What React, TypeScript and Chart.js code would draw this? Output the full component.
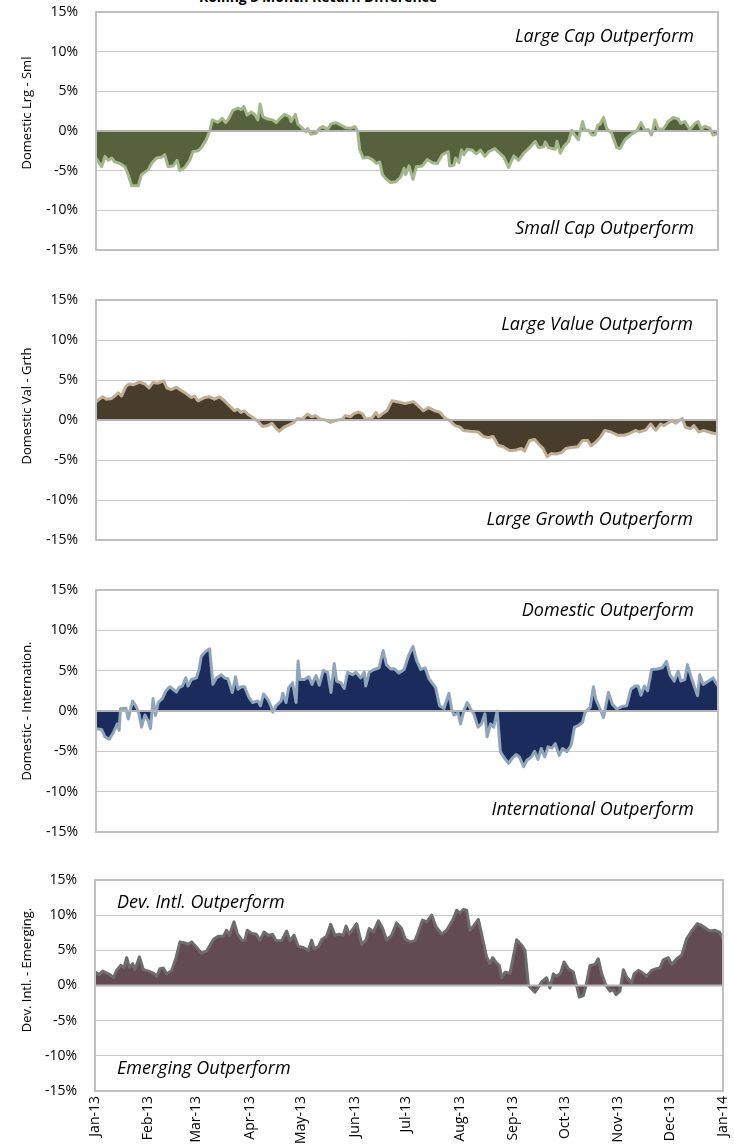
import React, { useEffect, useRef } from 'react';
import { Chart, registerables } from 'chart.js';

Chart.register(...registerables);

// ---------- axis data ----------
const monthDays = [0, 31, 59, 90, 120, 151, 181, 212, 243, 273, 304, 334, 365];
const monthLabels = ['Jan-13', 'Feb-13', 'Mar-13', 'Apr-13', 'May-13', 'Jun-13', 'Jul-13', 'Aug-13', 'Sep-13', 'Oct-13', 'Nov-13', 'Dec-13', 'Jan-14'];
const yTicks = [-15, -10, -5, 0, 5, 10, 15];

// ---------- series: Domestic Large - Small ----------
const lrgSmlDays = [0, 3.3, 5.3, 7.2, 9.2, 11.1, 14.0, 17.0, 18.9, 20.9, 24.8, 26.7, 30.6, 32.6, 35.5, 38.4, 40.4, 42.3, 45.2, 47.6, 49.1, 52.1, 55.0, 56.9, 59.9, 61.8, 64.7, 66.7, 68.3, 71.6, 74.1, 76.1, 78.0, 80.3, 83.3, 85.2, 86.8, 88.7, 91.1, 93.0, 95.0, 96.3, 97.9, 100.8, 103.7, 105.7, 107.6, 110.6, 113.5, 114.5, 117.0, 118.4, 121.3, 123.2, 124.2, 126.2, 129.1, 131.0, 133.0, 135.9, 137.9, 140.8, 143.7, 146.6, 149.6, 151.9, 153.5, 154.8, 156.8, 159.3, 162.2, 164.6, 166.5, 168.1, 170.0, 173.0, 175.9, 178.8, 180.8, 181.7, 183.7,
  186.0, 188.0, 191.5, 194.4, 197.3, 200.3, 203.2, 206.7, 207.5, 210.0, 211.0, 212.9, 214.5, 215.9, 217.8, 220.7, 223.1, 225.6, 228.2, 230.5, 234.0, 236.3, 239.3, 242.2, 245.1, 248.0, 251.0, 254.9, 257.8, 259.7, 262.7, 263.6, 265.6, 269.5, 270.5, 272.4, 274.4, 277.3, 279.2, 281.2, 283.1, 285.5, 287.0, 289.0, 290.9, 292.9, 294.4, 295.8, 297.8, 299.7, 302.6, 305.6, 307.5, 310.4, 314.3, 317.3, 319.8, 322.1, 324.1, 326.0, 328.0, 329.9, 332.9, 335.8, 338.7, 341.6, 343.2, 345.5, 348.5, 351.4, 353.3, 355.3, 357.2, 360.2, 362.1, 365];
const lrgSmlValues = [-3.4, -4.5, -3.2, -3.7, -3.4, -3.9, -4.1, -4.5, -5.5, -6.9, -6.9, -5.5, -4.9, -4.1, -3.4, -3.3, -3.0, -4.5, -4.4, -3.7, -5.0, -4.6, -3.7, -2.6, -2.5, -2.1, -1.1, 0, 1.4, 1.1, 1.6, 1.05, 1.6, 2.6, 2.9, 2.7, 3.1, 2.0, 2.4, 2.1, 1.4, 3.4, 1.8, 1.5, 1.4, 1.05, 1.5, 2.1, 1.8, 1.2, 2.1, 0.9, 0.3, -0.1, 0.3, -0.4, -0.3, 0.3, 0.55, 0.2, 0.9, 1.05, 0.75, 0.4, 0.35, 0.55, 0, -2.4, -3.4, -3.3, -3.6, -4.1, -3.9, -5.5, -6.0, -6.5, -6.4, -5.8, -4.7, -5.5, -4.4,
  -6.1, -4.5, -4.4, -3.6, -4.0, -4.1, -3.0, -2.6, -4.4, -4.3, -3.4, -4.0, -2.4, -3.0, -2.3, -2.4, -2.9, -2.4, -3.2, -2.6, -2.2, -2.7, -3.3, -4.6, -3.15, -3.7, -2.8, -2.0, -1.3, -2.1, -2.0, -1.4, -2.1, -2.3, -1.3, -2.8, -2.0, -1.3, 0.1, -0.6, -1.1, 1.2, 0.1, 0.1, -0.5, -0.5, 0.75, 0.85, 1.7, 0.3, -0.3, -2.1, -2.2, -1.1, -0.4, 0, 1.05, 0.1, 0.2, -0.5, 1.4, 0.25, 0.25, 1.2, 1.7, 1.5, 0.95, 1.2, 0.2, 0.95, 1.2, 0.2, 0.6, 0.35, -0.5, -0.3];

// ---------- series: Domestic Value - Growth ----------
const valGrthDays = [0, 1.9, 3.9, 6.2, 9.2, 11.1, 13.1, 15.0, 17.6, 19.5, 21.8, 25.7, 28.7, 31.2, 33.5, 36.5, 39.8, 41.7, 44.3, 47.2, 50.1, 53.0, 56.0, 57.9, 59.9, 63.8, 66.7, 69.6, 72.5, 75.5, 78.4, 81.3, 83.3, 85.2, 87.2, 89.1, 92.0, 95.0, 97.9, 100.8, 103.4, 105.3, 107.6, 110.6, 113.5, 116.4, 118.4, 121.3, 124.2, 126.8, 129.1, 132.0, 134.9, 137.9, 141.8, 144.7, 146.6, 149.6, 151.5, 154.4, 156.8, 158.3, 162.2, 164.6, 166.1, 168.1, 171.0, 173.9,
  177.8, 181.7, 186.6, 189.5, 192.5, 195.4, 199.3, 202.2, 205.1, 208.1, 211.0, 213.9, 215.9, 219.8, 224.6, 227.6, 230.5, 233.4, 236.3, 239.3, 243.2, 247.1, 250.0, 251.9, 254.9, 257.8, 260.7, 262.7, 265.2, 267.5, 270.5, 273.4, 276.3, 279.2, 283.1, 286.1, 289.0, 290.9, 293.9, 296.8, 299.1, 302.6, 306.5, 310.4, 313.4, 317.3, 319.2, 323.1, 326.0, 329.0, 331.9, 333.8, 336.8, 338.7, 340.7, 344.6, 346.5, 349.4, 351.4, 354.3, 357.2, 360.2, 362.7, 365];
const valGrthValues = [2.25, 2.6, 2.9, 2.6, 2.7, 3.0, 3.4, 3.0, 4.2, 4.5, 4.4, 4.75, 4.5, 4.0, 4.7, 4.6, 4.9, 4.0, 3.8, 4.1, 3.7, 3.3, 2.8, 3.0, 2.4, 2.8, 2.9, 2.6, 2.9, 2.4, 1.8, 1.15, 1.35, 0.95, 1.15, 0.75, 0.35, -0.15, -0.8, -0.7, -0.4, -0.9, -1.4, -0.9, -0.6, -0.3, 0.2, 0.1, 0.75, 0.4, 0.55, 0.1, 0, -0.3, 0, 0.1, 0.55, 0.4, 0.8, 1.0, 0.75, 0.1, 0.25, 0.95, 0.4, 0.75, 1.15, 2.4,
  2.25, 2.05, 2.3, 1.75, 1.15, 1.55, 1.15, 0.95, 0.25, -0.1, -0.7, -0.9, -1.3, -1.4, -1.5, -2.05, -2.2, -2.05, -3.15, -3.35, -3.85, -3.75, -3.55, -3.9, -2.55, -2.45, -3.15, -3.55, -4.6, -4.2, -4.25, -4.1, -3.55, -3.45, -3.35, -2.55, -2.55, -3.25, -2.75, -2.05, -1.3, -1.5, -1.9, -1.9, -1.7, -1.3, -1.5, -1.25, -0.5, -1.3, -0.5, -0.7, -0.3, -0.1, -0.4, 0.2, -0.9, -1.1, -0.7, -1.5, -1.3, -1.5, -1.65, -1.7];

// ---------- series: Domestic - International ----------
const domIntlDays = [0, 3.3, 5.3, 7.8, 10.1, 12.5, 13.6, 14.4, 17.6, 18.9, 19.9, 21.5, 23.8, 25.4, 26.7, 28.7, 30.6, 32.0, 33.5, 34.9, 36.5, 39.0, 41.0, 43.3, 45.2, 47.2, 48.7, 50.7, 52.7, 54.0, 56.0, 58.9, 60.4, 61.8, 64.4, 66.7, 68.6, 70.6, 73.5, 75.5, 77.4, 80.0, 81.9, 83.3, 85.2, 87.2, 89.7, 92.0, 95.0, 96.5, 98.3, 100.8, 102.8, 103.7, 105.7, 108.6, 109.6, 111.5, 113.1, 115.4, 117.4, 118.6, 119.7, 122.3, 124.8, 126.8, 129.1, 131.0, 133.4, 135.9, 137.9, 139.8, 141.2, 143.7, 145.7, 147.6, 150.5, 152.5, 155.4, 157.4, 158.3, 160.3, 163.2, 166.1, 168.5, 170.4, 173.0, 174.9, 177.8, 180.8,
  183.7, 186.0, 188.0, 190.5, 193.1, 195.4, 199.3, 201.6, 204.2, 207.1, 208.7, 210.0, 212.5, 213.9, 215.9, 217.8, 219.8, 221.7, 224.2, 226.2, 228.2, 229.5, 231.5, 233.4, 235.4, 237.3, 239.9, 242.2, 244.1, 246.5, 248.4, 251.0, 252.9, 255.5, 257.4, 259.4, 261.3, 263.3, 265.2, 267.5, 269.5, 271.8, 273.8, 276.3, 278.8, 280.8, 283.1, 285.5, 287.0, 290.0, 291.9, 293.3, 295.8, 297.8, 300.7, 303.0, 305.6, 308.5, 311.4, 313.9, 316.3, 318.2, 319.8, 321.8, 323.7, 326.0, 329.0, 332.3, 334.8, 336.8, 339.3, 341.6, 343.2, 345.5, 347.1, 349.4, 353.0, 354.3, 356.3, 359.2, 362.1, 365];
const domIntlValues = [-2.2, -2.3, -3.2, -3.5, -2.7, -1.6, -2.4, 0.3, 0.35, -1.0, -0.15, 1.25, 0.45, -0.5, -2.0, -0.5, -1.2, -2.2, 1.55, -0.55, 1.05, 1.55, 2.5, 3.0, 2.7, 2.35, 2.9, 3.1, 4.1, 3.1, 3.9, 4.1, 5.1, 6.8, 7.4, 7.7, 3.3, 4.1, 4.5, 4.1, 4.0, 2.3, 4.25, 2.7, 3.0, 3.0, 1.7, 1.05, 1.25, 0.65, 2.1, 1.45, 0.55, -0.15, 0.65, 1.25, 2.2, 1.05, 2.9, 3.5, 1.05, 6.2, 3.9, 3.9, 4.25, 3.3, 4.4, 3.2, 5.05, 4.8, 2.3, 5.9, 3.7, 3.5, 2.8, 4.8, 4.5, 4.8, 4.1, 4.8, 3.1, 4.8, 5.15, 5.35, 7.5, 5.75, 5.2, 5.25, 4.7, 5.15,
  7.0, 8.0, 6.35, 5.15, 5.35, 4.0, 2.9, 0.65, 0.3, 2.2, 0.25, -0.5, -0.25, -1.6, 0.05, 1.05, 0.25, -0.35, -2.0, -1.6, -0.35, -3.2, -1.6, -2.0, 0, -5.05, -5.9, -6.5, -5.9, -5.4, -5.7, -6.9, -6.1, -5.7, -5.0, -6.0, -4.65, -5.7, -4.45, -4.6, -4.05, -5.5, -4.65, -5.05, -4.25, -2.0, -1.8, -1.4, -0.15, 0.45, 3.0, 1.45, 0.25, -0.8, 2.3, 0.85, 0.25, 0.55, 0.65, 2.7, 3.1, 3.1, 1.95, 3.1, 2.5, 5.15, 5.2, 5.35, 6.15, 4.5, 3.7, 4.95, 3.7, 3.9, 5.75, 4.1, 1.9, 4.5, 3.3, 3.7, 4.1, 3.1];

// ---------- series: Developed Intl - Emerging ----------
const devEmDays = [0, 2.5, 4.5, 6.8, 8.7, 10.7, 12.6, 14.9, 16.9, 18.4, 20.0, 21.9, 23.2, 25.8, 28.1, 31.0, 33.9, 35.8, 37.8, 39.7, 41.7, 44.6, 47.1, 49.4, 52.3, 54.2, 56.2, 59.1, 62.0, 64.9, 66.8, 69.2, 71.7, 74.6, 76.5, 78.1, 80.8, 82.7, 85.2, 87.2, 88.5, 91.1, 93.6, 95.9, 98.2, 100.7, 103.3, 105.2, 108.5, 111.4, 113.3, 115.7, 118.2, 121.1, 124.0, 125.9, 127.3, 129.8, 131.7, 134.6, 137.0, 139.5, 142.0, 144.3, 145.9, 147.8, 150.1, 152.1, 155.0, 157.5, 159.4, 161.8, 164.7, 167.2, 169.5, 172.4, 175.3, 178.2,
  180.2, 183.1, 186.0, 187.9, 190.4, 192.8, 195.7, 198.2, 201.5, 204.4, 207.9, 210.2, 212.1, 214.1, 216.0, 217.9, 220.3, 222.8, 225.3, 227.6, 229.6, 231.1, 233.4, 235.0, 236.4, 238.3, 241.2, 243.1, 245.1, 248.0, 249.9, 251.9, 253.8, 255.7, 257.7, 259.6, 262.5, 264.4, 266.4, 268.3, 270.6, 272.6, 275.1, 278.0, 279.9, 281.5, 283.8, 285.4, 287.7, 290.6, 292.5, 294.5, 297.0, 299.3, 301.3, 302.8, 305.1, 307.1, 309.0, 311.9, 313.3, 315.8, 317.7, 320.6, 323.5, 326.4, 328.4, 330.3, 333.2, 335.2, 338.1, 341.0, 343.9, 346.8, 350.1, 352.6, 355.1, 357.4, 360.3, 362.9, 365];
const devEmValues = [1.9, 1.55, 2.05, 1.75, 1.55, 1.1, 2.15, 2.85, 2.6, 3.95, 2.6, 3.1, 2.25, 4.05, 2.25, 2.05, 1.75, 1.3, 2.4, 2.5, 1.65, 2.15, 3.95, 6.2, 6.05, 5.85, 6.2, 5.4, 4.6, 4.9, 5.7, 6.65, 7.0, 7.0, 7.85, 7.15, 9.05, 7.4, 6.45, 6.45, 7.85, 7.4, 7.3, 6.45, 7.6, 7.15, 7.25, 6.35, 6.35, 7.75, 6.35, 7.15, 5.55, 5.4, 5.0, 6.45, 5.25, 5.5, 6.5, 7.0, 8.7, 7.15, 7.3, 7.15, 8.45, 7.3, 8.1, 8.8, 5.85, 6.45, 8.1, 7.6, 9.2, 8.1, 6.45, 7.15, 8.9, 8.1,
  6.65, 6.2, 6.35, 7.6, 9.3, 9.05, 10.0, 8.35, 7.3, 7.85, 9.3, 10.7, 10.3, 10.8, 10.7, 7.85, 8.55, 9.4, 6.65, 4.05, 3.1, 3.95, 3.2, 2.85, 1.1, 1.9, 1.75, 4.05, 6.5, 5.7, 5.0, 0, -0.5, -0.95, -0.25, 0.5, 1.1, -0.35, 1.65, 1.3, 1.75, 3.35, 2.4, 1.9, 0, -1.65, -1.45, 0, 2.85, 3.0, 3.8, 1.65, 0, -0.8, -0.6, -1.3, -0.8, 2.25, 1.2, 0.35, 1.65, 2.15, 1.9, 1.3, 2.15, 2.4, 2.5, 3.65, 3.95, 3.0, 3.8, 4.3, 6.65, 7.75, 8.8, 8.55, 8.1, 7.75, 7.85, 7.6, 6.65];

// ---------- layout / style ----------
const FONT = '"Open Sans", "DejaVu Sans", sans-serif';

type Note = { text: string; value: number; align: 'left' | 'right' };
type Panel = {
  axisTitle: string;
  days: number[];
  values: number[];
  fill: string;
  line: string;
  top: number;
  height: number;
  padTop: number;
  padBottom: number;
  padRight: number;
  axisWidth: number;
  titleY: number;
  showX: boolean;
  notes: Note[];
};

const panels: Panel[] = [
  {
    axisTitle: 'Domestic Lrg - Sml', days: lrgSmlDays, values: lrgSmlValues,
    fill: '#55623B', line: '#A4B68A',
    top: 0, height: 275, padTop: 12, padBottom: 25, padRight: 16, axisWidth: 96, titleY: 113, showX: false,
    notes: [
      { text: 'Large Cap Outperform', value: 11.9, align: 'right' },
      { text: 'Small Cap Outperform', value: -12.3, align: 'right' },
    ],
  },
  {
    axisTitle: 'Domestic Val - Grth', days: valGrthDays, values: valGrthValues,
    fill: '#483D2B', line: '#C0AF95',
    top: 275, height: 290, padTop: 25, padBottom: 25, padRight: 17, axisWidth: 96, titleY: 406, showX: false,
    notes: [
      { text: 'Large Value Outperform', value: 11.9, align: 'right' },
      { text: 'Large Growth Outperform', value: -12.5, align: 'right' },
    ],
  },
  {
    axisTitle: 'Domestic - Internation.', days: domIntlDays, values: domIntlValues,
    fill: '#1A2B5C', line: '#8FA6BA',
    top: 565, height: 291, padTop: 25, padBottom: 24, padRight: 16, axisWidth: 96, titleY: 711, showX: false,
    notes: [
      { text: 'Domestic Outperform', value: 12.4, align: 'right' },
      { text: 'International Outperform', value: -12.3, align: 'right' },
    ],
  },
  {
    axisTitle: 'Dev. Intl. - Emerging.', days: devEmDays, values: devEmValues,
    fill: '#634B53', line: '#6D6D6D',
    top: 856, height: 288, padTop: 24, padBottom: 0, padRight: 11, axisWidth: 95, titleY: 970, showX: true,
    notes: [
      { text: 'Dev. Intl. Outperform', value: 11.8, align: 'left' },
      { text: 'Emerging Outperform', value: -11.9, align: 'left' },
    ],
  },
];

function PanelChart({ p }: { p: Panel }) {
  const ref = useRef<HTMLCanvasElement | null>(null);
  useEffect(() => {
    if (!ref.current) return;
    const decor = {
      id: 'decor',
      afterDatasetsDraw(chart: any) {
        const { ctx, chartArea: a, scales } = chart;
        const y0 = scales.y.getPixelForValue(0);
        ctx.save();
        ctx.strokeStyle = '#b3b3b3';
        ctx.lineWidth = 2;
        ctx.beginPath();
        ctx.moveTo(a.left, y0);
        ctx.lineTo(a.right, y0);
        ctx.stroke();
        ctx.strokeStyle = '#c0c0c0';
        ctx.lineWidth = 2;
        ctx.strokeRect(a.left, a.top, a.right - a.left, a.bottom - a.top);
        ctx.restore();
      },
      afterDraw(chart: any) {
        const { ctx, chartArea: a, scales } = chart;
        ctx.save();
        ctx.fillStyle = '#000';
        ctx.font = `italic 18px ${FONT}`;
        ctx.textBaseline = 'middle';
        p.notes.forEach((n) => {
          const y = scales.y.getPixelForValue(n.value);
          if (n.align === 'right') {
            ctx.textAlign = 'right';
            ctx.fillText(n.text, a.right - 24, y);
          } else {
            ctx.textAlign = 'left';
            ctx.fillText(n.text, a.left + 22, y);
          }
        });
        ctx.font = `13px ${FONT}`;
        ctx.translate(27, p.titleY - p.top);
        ctx.rotate(-Math.PI / 2);
        ctx.textAlign = 'center';
        ctx.fillText(p.axisTitle, 0, 0);
        ctx.restore();
      },
    };
    const chart = new Chart(ref.current, {
      type: 'line',
      data: {
        datasets: [
          {
            data: p.days.map((d, i) => ({ x: d, y: p.values[i] })),
            borderColor: p.line,
            backgroundColor: p.fill,
            fill: 'origin',
            borderWidth: 3,
            pointRadius: 0,
            tension: 0,
            borderJoinStyle: 'round',
          },
        ],
      },
      options: {
        animation: false,
        responsive: false,
        maintainAspectRatio: false,
        layout: { padding: { top: p.padTop, bottom: p.padBottom, left: 0, right: p.padRight } },
        plugins: { legend: { display: false }, tooltip: { enabled: false }, title: { display: false } },
        scales: {
          x: {
            type: 'linear',
            min: 0,
            max: 365,
            display: p.showX,
            grid: { display: false, drawTicks: false },
            border: { display: false },
            afterBuildTicks: (s: any) => {
              s.ticks = monthDays.map((v) => ({ value: v }));
            },
            afterFit: (s: any) => {
              if (p.showX) s.height = 53;
              s.paddingLeft = 0;
              s.paddingRight = 0;
            },
            ticks: {
              autoSkip: false,
              maxRotation: 90,
              minRotation: 90,
              padding: 5,
              color: '#000',
              font: { family: FONT, size: 14 },
              callback: (_v: any, i: number) => monthLabels[i],
            },
          },
          y: {
            type: 'linear',
            min: -15,
            max: 15,
            afterBuildTicks: (s: any) => {
              s.ticks = yTicks.map((v) => ({ value: v }));
            },
            afterFit: (s: any) => {
              s.width = p.axisWidth;
              s.paddingTop = 0;
              s.paddingBottom = 0;
            },
            grid: { color: '#c9c9c9', lineWidth: 1, drawTicks: false },
            border: { display: false },
            ticks: {
              padding: 18,
              color: '#000',
              font: { family: FONT, size: 14 },
              callback: (v: any) => `${v}%`,
            },
          },
        },
      } as any,
      plugins: [decor],
    });
    return () => chart.destroy();
  }, [p]);
  return (
    <canvas
      ref={ref}
      width={734}
      height={p.height}
      style={{ position: 'absolute', left: 0, top: p.top, width: 734, height: p.height, display: 'block' }}
    />
  );
}

export default function App() {
  return (
    <div style={{ position: 'absolute', left: 0, top: 0, width: 734, height: 1144, background: '#fff', overflow: 'hidden' }}>
      <div
        style={{
          position: 'absolute', top: -11, left: 158, width: 320, textAlign: 'center',
          font: `bold 14px ${FONT}`, lineHeight: '15px', color: '#000', whiteSpace: 'nowrap',
        }}
      >
        Rolling 3 Month Return Difference
      </div>
      {panels.map((p, i) => (
        <PanelChart key={i} p={p} />
      ))}
    </div>
  );
}
